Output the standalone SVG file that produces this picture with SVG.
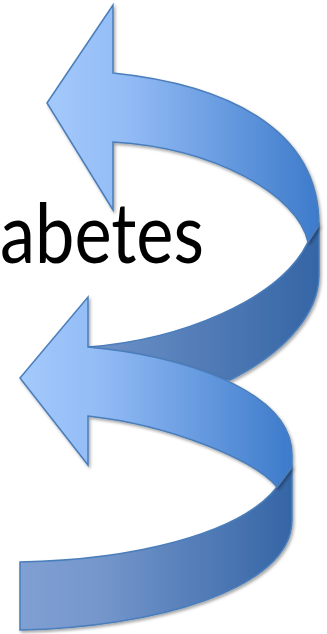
<svg xmlns="http://www.w3.org/2000/svg" width="327" height="634" viewBox="0 0 327 634">
  <style>
    .lbl { font-family: Lato, "Open Sans", "Liberation Sans", sans-serif; font-size: 84px; fill: #000000; }
    .shape { stroke: #4A7EBB; stroke-width: 1.5; stroke-linejoin: miter; filter: url(#shadow); }
  </style>
  <defs>
    <filter id="shadow" x="-10%" y="-10%" width="130%" height="130%">
      <feDropShadow dx="1.5" dy="2" stdDeviation="1.8" flood-color="#000000" flood-opacity="0.35"/>
    </filter>
    <linearGradient id="frontTop" gradientUnits="userSpaceOnUse" x1="47" y1="0" x2="319" y2="0">
      <stop offset="0" stop-color="#A4C9FC"/>
      <stop offset="0.3" stop-color="#92BBF5"/>
      <stop offset="1" stop-color="#3D7BCB"/>
    </linearGradient>
    <linearGradient id="frontBot" gradientUnits="userSpaceOnUse" x1="20" y1="0" x2="292" y2="0">
      <stop offset="0" stop-color="#A4C9FC"/>
      <stop offset="0.3" stop-color="#92BBF5"/>
      <stop offset="1" stop-color="#3D7BCB"/>
    </linearGradient>
    <linearGradient id="backTop" gradientUnits="userSpaceOnUse" x1="20" y1="0" x2="319" y2="0">
      <stop offset="0" stop-color="#80A0D3"/>
      <stop offset="1" stop-color="#3565A5"/>
    </linearGradient>
    <linearGradient id="backBot" gradientUnits="userSpaceOnUse" x1="20" y1="0" x2="292" y2="0">
      <stop offset="0" stop-color="#80A0D3"/>
      <stop offset="0.3" stop-color="#7496CB"/>
      <stop offset="1" stop-color="#3565A5"/>
    </linearGradient>
  </defs>

  <g id="label">
    <text class="lbl" x="0" y="263" textLength="204" lengthAdjust="spacingAndGlyphs">abetes</text>
  </g>

  <g id="arrow-top-back">
    <path class="shape" fill="url(#backTop)" d="M319,225 L319,275 C319,310 290,350 230,380 L160,372 L88,372 L88,347 C180,340 280,300 308,242 Z"/>
  </g>
  <g id="arrow-top">
    <path class="shape" fill="url(#frontTop)" d="M47,103 L113,5 L113,73 C220,84 319,125 319,225 L308,242 C298,195 215,148 113,142 L113,210 Z"/>
  </g>
  <g id="arrow-bottom-back">
    <path class="shape" fill="url(#backBot)" d="M292,467 L292,520 C292,590 150,628 20,630 L20,562 C130,560 240,535 277,487 Z"/>
  </g>
  <g id="arrow-bottom">
    <path class="shape" fill="url(#frontBot)" d="M20,378 L88,297 L88,347 C180,355 292,390 292,455 L292,467 L277,487 C255,460 170,425 88,416 L88,465 Z"/>
  </g>
</svg>
